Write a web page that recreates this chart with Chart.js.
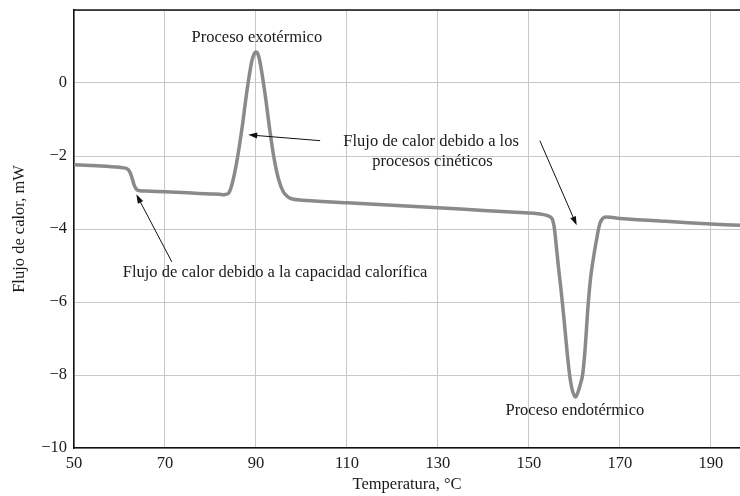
<!DOCTYPE html>
<html>
<head>
<meta charset="utf-8">
<script src="https://cdn.jsdelivr.net/npm/chart.js@4.4.1/dist/chart.umd.min.js"></script>
<style>
  html, body { margin: 0; padding: 0; background: #fff; }
  #wrap { width: 740px; height: 496px; }
</style>
</head>
<body>
<div id="wrap"><canvas id="dscChart"></canvas></div>
<script>
// temperatura (°C)
var temps = [50, 55, 60, 61.5, 62.2, 62.8, 63.3, 63.8, 64.5, 66, 70, 75, 80, 82, 83, 84, 85, 86, 87, 88, 89, 89.5, 90,
    90.5, 91, 92, 93, 94, 95, 96, 97, 98, 100, 110, 120, 130, 140, 150, 152, 153, 154, 155, 155.5, 156, 156.5, 157,
    157.5, 158, 158.5, 159, 159.5, 160, 160.3, 160.7, 161.2, 161.8, 162.4, 163, 163.6, 164.3, 165, 165.6, 166.3, 167,
    168, 170, 180, 190, 196.4];
// flujo de calor (mW)
var flujo = [-2.24, -2.27, -2.31, -2.34, -2.42, -2.62, -2.82, -2.92, -2.95, -2.96, -2.98, -3.01, -3.04, -3.05, -3.06,
    -3.02, -2.64, -2.0, -1.18, -0.23, 0.55, 0.77, 0.85, 0.77, 0.5, -0.3, -1.25, -2.08, -2.65, -2.98, -3.12, -3.18, -3.21,
    -3.28, -3.35, -3.42, -3.49, -3.56, -3.58, -3.6, -3.63, -3.7, -3.9, -4.45, -5.05, -5.6, -6.2, -6.85, -7.5, -8.05,
    -8.4, -8.57, -8.6, -8.5, -8.3, -8.0, -7.2, -6.1, -5.3, -4.7, -4.2, -3.85, -3.7, -3.67, -3.68, -3.71, -3.79, -3.86,
    -3.9];

var xTicks = [50, 70, 90, 110, 130, 150, 170, 190];
var yTicks = [-10, -8, -6, -4, -2, 0, 2];

// textos y flechas (en unidades de los ejes)
var etiquetas = [
    {text: "Proceso exotérmico", x: 90.2, y: 1.23},
    {text: "Flujo de calor debido a los", x: 128.5, y: -1.6},
    {text: "procesos cinéticos", x: 128.8, y: -2.15},
    {text: "Flujo de calor debido a la capacidad calorífica", x: 94.2, y: -5.2},
    {text: "Proceso endotérmico", x: 160.1, y: -8.97}
];
var flechas = [
    {x0: 104.1, y0: -1.58, x1: 88.3, y1: -1.42},
    {x0: 152.4, y0: -1.58, x1: 160.5, y1: -3.9},
    {x0: 71.5, y0: -4.9, x1: 63.7, y1: -3.05}
];

var serif = "'Liberation Serif', 'DejaVu Serif', serif";

var anotaciones = {
    id: 'anotaciones',
    afterDatasetsDraw: function (chart) {
        var ctx = chart.ctx;
        var sx = chart.scales.x, sy = chart.scales.y;
        ctx.save();
        ctx.font = "16.5px " + serif;
        ctx.fillStyle = "#1a1a1a";
        ctx.textAlign = "center";
        ctx.textBaseline = "middle";
        etiquetas.forEach(function (e) {
            ctx.fillText(e.text, sx.getPixelForValue(e.x), sy.getPixelForValue(e.y));
        });
        ctx.strokeStyle = "#111";
        ctx.fillStyle = "#111";
        ctx.lineWidth = 1;
        flechas.forEach(function (f) {
            var ax = sx.getPixelForValue(f.x0), ay = sy.getPixelForValue(f.y0);
            var bx = sx.getPixelForValue(f.x1), by = sy.getPixelForValue(f.y1);
            var ang = Math.atan2(by - ay, bx - ax);
            ctx.beginPath();
            ctx.moveTo(ax, ay);
            ctx.lineTo(bx - 6 * Math.cos(ang), by - 6 * Math.sin(ang));
            ctx.stroke();
            ctx.beginPath();
            ctx.moveTo(bx, by);
            ctx.lineTo(bx - 9 * Math.cos(ang) + 3 * Math.sin(ang), by - 9 * Math.sin(ang) - 3 * Math.cos(ang));
            ctx.lineTo(bx - 9 * Math.cos(ang) - 3 * Math.sin(ang), by - 9 * Math.sin(ang) + 3 * Math.cos(ang));
            ctx.closePath();
            ctx.fill();
        });
        // borde superior
        ctx.beginPath();
        ctx.strokeStyle = "#111";
        ctx.lineWidth = 1.5;
        ctx.moveTo(chart.chartArea.left, chart.chartArea.top);
        ctx.lineTo(chart.chartArea.right, chart.chartArea.top);
        ctx.stroke();
        ctx.restore();
    }
};

var puntos = temps.map(function (t, i) {
    return {x: t, y: flujo[i]};
});

var ctx = document.getElementById("dscChart").getContext("2d");
var dscChart = new Chart(ctx, {
    type: 'scatter',
    data: {
        datasets: [
            {
                label: "Flujo de calor",
                data: puntos,
                showLine: true,
                borderColor: "#8a8a8a",
                borderWidth: 3.5,
                pointRadius: 0,
                tension: 0.35
            }
        ]
    },
    options: {
        responsive: true,
        maintainAspectRatio: false,
        animation: false,
        layout: {padding: {top: 0, right: 0, left: 0, bottom: 0}},
        plugins: {
            legend: {display: false},
            tooltip: {enabled: false}
        },
        scales: {
            x: {
                type: 'linear',
                min: 50,
                max: 196.4,
                afterBuildTicks: function (s) {
                    s.ticks = xTicks.map(function (v) { return {value: v}; });
                },
                afterFit: function (s) { s.height = 48; },
                border: {color: "#111", width: 1.5},
                grid: {color: "#c8c8c8", lineWidth: 1, drawTicks: false},
                ticks: {
                    padding: 6,
                    color: "#1a1a1a",
                    font: {family: serif, size: 16.5},
                    maxRotation: 0,
                    autoSkip: false
                },
                title: {
                    display: true,
                    text: "Temperatura, °C",
                    color: "#1a1a1a",
                    font: {family: serif, size: 16.5},
                    padding: {top: 0, bottom: 1}
                }
            },
            y: {
                min: -10,
                max: 2,
                afterBuildTicks: function (s) {
                    s.ticks = yTicks.map(function (v) { return {value: v}; });
                },
                afterFit: function (s) {
                    s.width = 74;
                    s.paddingTop = 10;
                },
                border: {color: "#111", width: 1.5},
                grid: {color: "#c8c8c8", lineWidth: 1, drawTicks: false},
                ticks: {
                    padding: 7,
                    color: "#1a1a1a",
                    font: {family: serif, size: 16.5},
                    autoSkip: false,
                    callback: function (v) {
                        if (v > 0) return '';
                        return v < 0 ? '\u2212' + Math.abs(v) : '' + v;
                    }
                },
                title: {
                    display: true,
                    text: "Flujo de calor, mW",
                    color: "#1a1a1a",
                    font: {family: serif, size: 16.5},
                    padding: {top: 10, bottom: 0}
                }
            }
        }
    },
    plugins: [anotaciones]
});
</script>
</body>
</html>
